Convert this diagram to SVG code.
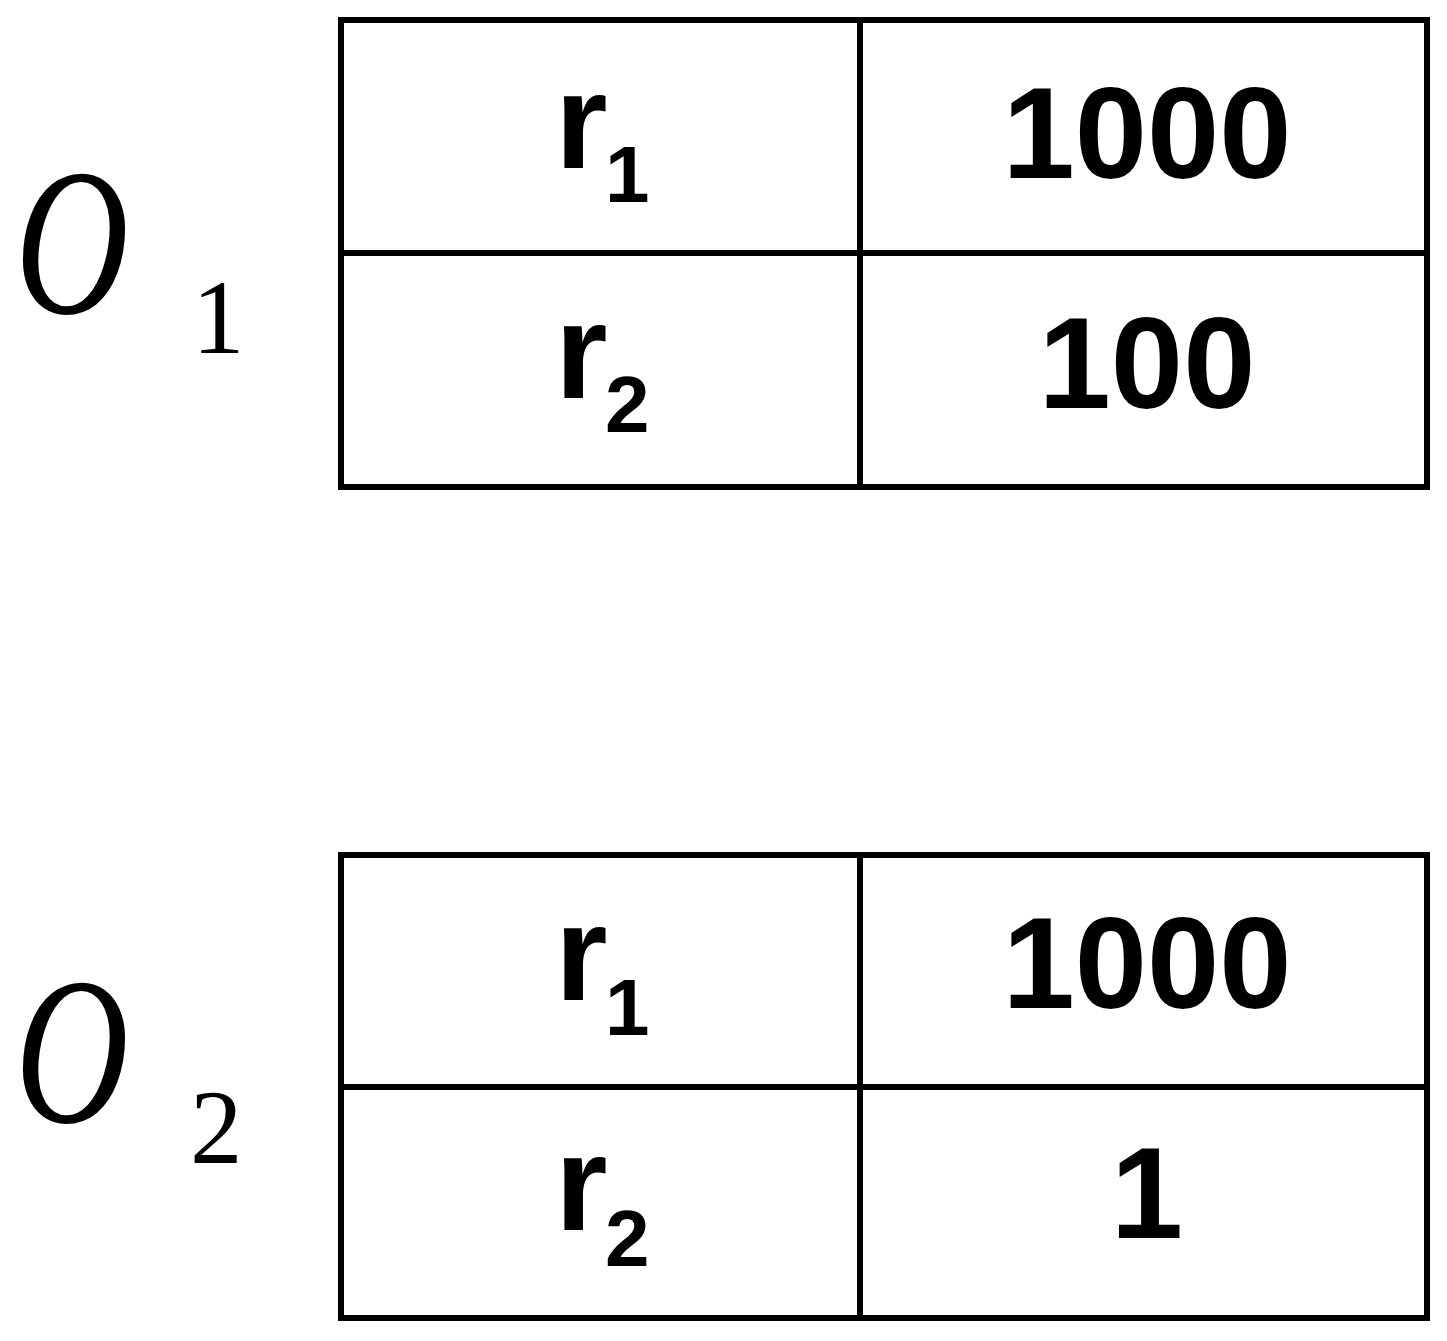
<svg xmlns="http://www.w3.org/2000/svg" width="1447" height="1341" viewBox="0 0 1447 1341">
<style>
.c{fill:#fff;stroke:#000;stroke-width:6}
.b{font-family:"Liberation Sans",Arial,sans-serif;font-weight:bold;fill:#000}
.r{font-size:135px}
.s{font-size:80px}
.n{font-size:130px;text-anchor:middle}
.o{font-family:"Liberation Serif","Times New Roman",serif;fill:#000}
</style>
<rect width="1447" height="1341" fill="#fff"/>
<g id="label1">
<text class="o" x="20" y="313" font-size="210" font-style="italic" transform="scale(0.75,1)">O</text>
<text class="o" x="192" y="353" font-size="105">1</text>
</g>
<g id="table1">
<rect class="c" x="341" y="20" width="1086" height="467"/>
<line class="c" x1="341" y1="253" x2="1427" y2="253"/>
<line class="c" x1="860" y1="20" x2="860" y2="487"/>
<text class="b r" x="555" y="168">r<tspan class="s" x="605" y="202">1</tspan></text>
<text class="b r" x="555" y="398">r<tspan class="s" x="605" y="432">2</tspan></text>
<text class="b n" x="1147" y="178">1000</text>
<text class="b n" x="1147" y="408">100</text>
</g>
<g id="label2">
<text class="o" x="20" y="1122" font-size="210" font-style="italic" transform="scale(0.75,1)">O</text>
<text class="o" x="190" y="1163" font-size="105">2</text>
</g>
<g id="table2">
<rect class="c" x="341" y="855" width="1086" height="463"/>
<line class="c" x1="341" y1="1087" x2="1427" y2="1087"/>
<line class="c" x1="860" y1="855" x2="860" y2="1318"/>
<text class="b r" x="555" y="1000">r<tspan class="s" x="605" y="1035">1</tspan></text>
<text class="b r" x="555" y="1230">r<tspan class="s" x="605" y="1266">2</tspan></text>
<text class="b n" x="1147" y="1008">1000</text>
<text class="b n" x="1147" y="1238">1</text>
</g>
<g id="connectors"/>
</svg>
